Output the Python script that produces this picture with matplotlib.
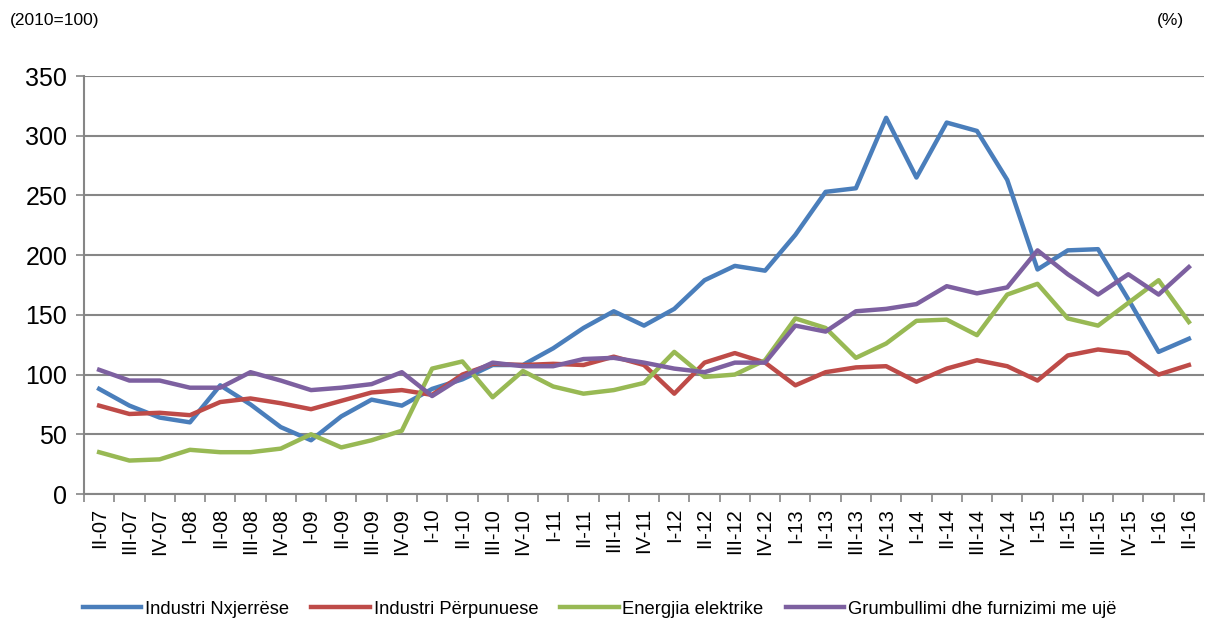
import matplotlib

matplotlib.use("Agg")

import matplotlib.pyplot as plt
import numpy as np

quarters = [
    "II-07", "III-07", "IV-07", "I-08", "II-08", "III-08", "IV-08",
    "I-09", "II-09", "III-09", "IV-09", "I-10", "II-10", "III-10", "IV-10",
    "I-11", "II-11", "III-11", "IV-11", "I-12", "II-12", "III-12", "IV-12",
    "I-13", "II-13", "III-13", "IV-13", "I-14", "II-14", "III-14", "IV-14",
    "I-15", "II-15", "III-15", "IV-15", "I-16", "II-16",
]

nxjerrese = [88, 74, 64, 60, 91, 75, 56, 45, 65, 79, 74, 88, 96, 108, 108,
             122, 139, 153, 141, 155, 179, 191, 187, 217, 253, 256, 315,
             265, 311, 304, 263, 188, 204, 205, 163, 119, 130]
perpunuese = [74, 67, 68, 66, 77, 80, 76, 71, 78, 85, 87, 83, 100, 109, 108,
              109, 108, 115, 108, 84, 110, 118, 110, 91, 102, 106, 107,
              94, 105, 112, 107, 95, 116, 121, 118, 100, 108]
energjia = [35, 28, 29, 37, 35, 35, 38, 50, 39, 45, 53, 105, 111, 81, 103,
            90, 84, 87, 93, 119, 98, 100, 112, 147, 139, 114, 126,
            145, 146, 133, 167, 176, 147, 141, 160, 179, 144]
uje = [104, 95, 95, 89, 89, 102, 95, 87, 89, 92, 102, 82, 98, 110, 107,
       107, 113, 114, 110, 105, 102, 110, 110, 141, 136, 153, 155,
       159, 174, 168, 173, 204, 184, 167, 184, 167, 190]

series = [
    ("Industri Nxjerrëse", nxjerrese, "#4A7EBB"),
    ("Industri Përpunuese", perpunuese, "#BE4B48"),
    ("Energjia elektrike", energjia, "#98B954"),
    ("Grumbullimi dhe furnizimi me ujë", uje, "#7D60A0"),
]

plt.rcParams["font.family"] = ["Liberation Sans", "DejaVu Sans"]

fig = plt.figure(figsize=(12.09, 6.25), dpi=100)
ax = fig.add_axes([84 / 1209, 1 - 494 / 625, (1204 - 84) / 1209, (494 - 76) / 625])

x = np.arange(len(quarters))
for name, vals, color in series:
    ax.plot(x, vals, color=color, lw=3.2, label=name)

ax.set_xlim(-0.5, len(quarters) - 0.5)
ax.set_ylim(0, 350)
ax.set_yticks(range(0, 351, 50))
ax.tick_params(axis="y", labelsize=18, length=6, color="#868686", width=1.2, pad=6)
ax.yaxis.grid(True, color="#868686", lw=1.5)
ax.set_axisbelow(True)

ax.set_xticks(x)
ax.set_xticklabels(quarters, rotation=90, fontsize=14.5)
ax.tick_params(axis="x", length=0, pad=10)
ax.set_xticks(np.arange(-0.5, len(quarters)), minor=True)
ax.tick_params(axis="x", which="minor", length=6, color="#868686", width=1.2)

for side in ["top", "right"]:
    ax.spines[side].set_visible(False)
for side in ["left", "bottom"]:
    ax.spines[side].set_color("#868686")
    ax.spines[side].set_linewidth(1.5)

fig.text(10 / 1209, 1 - 20 / 625, "(2010=100)", fontsize=12.5, va="center", ha="left")
fig.text(1170 / 1209, 1 - 20 / 625, "(%)", fontsize=12.5, va="center", ha="center")

fig.legend(loc="center", bbox_to_anchor=(0.496, 1 - 609 / 625), ncol=4, frameon=False,
           fontsize=13.2, handlelength=3.2, columnspacing=1.2, handletextpad=0.2)

fig.savefig("out.png", dpi=100)
